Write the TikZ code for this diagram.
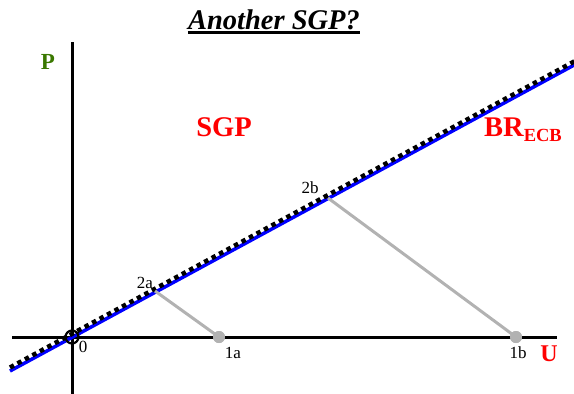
\documentclass[tikz,border=0pt]{standalone}
\usepackage{fontspec}
\setmainfont{Liberation Serif}
\begin{document}
\begin{tikzpicture}[x=1pt,y=-1pt,
  axis/.style={line width=3pt,black},
  drop/.style={line width=3pt,color=black!30},
  dotpt/.style={circle,fill=black!30,inner sep=0pt,minimum size=12pt},
  lbl/.style={font=\fontsize{17}{17}\selectfont,inner sep=1pt},
  big/.style={font=\fontsize{28.5}{28.5}\selectfont\bfseries,text=red,inner sep=0pt}]
\useasboundingbox (0,0) rectangle (574,394);
% title
\node[font=\fontsize{28.5}{28.5}\selectfont\bfseries\itshape,inner sep=0pt] (title) at (274,20) {Another SGP?};
\draw[line width=3pt] (title.south west) ++(0,2.5) coordinate (ul1) -- (title.south east |- ul1) coordinate (ul2);
% axes
\coordinate (O) at (72,337);
\coordinate (ytop) at (72,42);
\coordinate (ybot) at (72,394);
\coordinate (xl) at (12,337);
\coordinate (xr) at (557,337);
\draw[axis] (ybot) -- (ytop);
\draw[axis] (xl) -- (xr);
% lines
\coordinate (b1) at (10,371);
\coordinate (b2) at (576,64);
\draw[line width=3.5pt,blue] (b1) -- (b2);
\coordinate (d1) at (10,367.5);
\coordinate (d2) at (576,60.5);
\draw[line width=4.5pt,dash pattern=on 4.5pt off 4pt,black] (d1) -- (d2);
% origin circle
\draw[line width=2.2pt] (O) circle (6.5);
% drops
\coordinate (p2a) at (155,291);
\coordinate (p2b) at (328,198);
\node[dotpt] (p1a) at (219,337) {};
\node[dotpt] (p1b) at (516,337) {};
\draw[drop] (p2a) -- (p1a.center);
\draw[drop] (p2b) -- (p1b.center);
\node[dotpt] at (219,337) {};
\node[dotpt] at (516,337) {};
% labels
\node[lbl] (l2a) at (145,283) {2a};
\node[lbl] (l2b) at (310,188) {2b};
\node[lbl] (l0) at (83,347) {0};
\node[lbl] (l1a) at (233,353) {1a};
\node[lbl] (l1b) at (518,353) {1b};
\node[big,font=\fontsize{24}{24}\selectfont\bfseries] (U) at (549,354) {U};
\node[big,text={rgb,255:red,58;green,120;blue,0},font=\fontsize{23}{23}\selectfont\bfseries] (P) at (48,62) {P};
\node[big] (sgp) at (224,127) {SGP};
\node[big,anchor=base west] (br) at (484,136) {BR\raisebox{-5pt}{\fontsize{18.5}{18.5}\selectfont ECB}};
\end{tikzpicture}
\end{document}
